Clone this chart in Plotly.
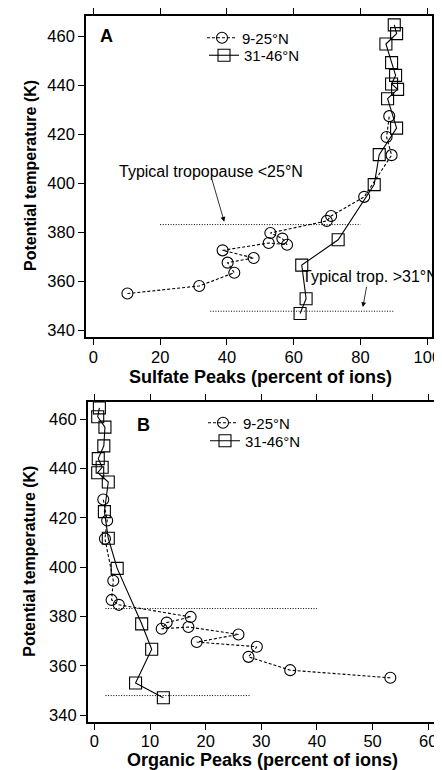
import plotly.graph_objects as go

# ---- data ----
theta_low = [355.1, 358.2, 363.6, 367.7, 369.6, 372.7, 375.7, 375.0, 377.5, 379.8,
             384.7, 386.7, 394.5, 411.5, 418.9, 427.4]
sulfate_low = [10.2, 31.7, 42.2, 40.2, 48.0, 38.7, 52.5, 58.0, 56.6, 53.0,
               69.9, 71.2, 81.1, 89.3, 87.8, 88.6]
organic_low = [53.2, 35.2, 27.7, 29.2, 18.4, 25.9, 16.9, 12.1, 13.0, 17.3,
               4.4, 3.1, 3.4, 1.9, 2.3, 1.6]

theta_mid = [347.0, 353.0, 366.7, 377.0, 399.5, 411.7, 422.5, 434.5, 438.3, 440.5,
             444.0, 449.2, 456.8, 461.0, 464.6]
sulfate_mid = [61.9, 63.7, 62.4, 73.3, 84.1, 85.6, 90.8, 88.1, 91.1, 89.3,
               90.5, 89.3, 87.6, 90.8, 90.1]
organic_mid = [12.4, 7.4, 10.3, 8.5, 4.1, 2.5, 1.8, 2.5, 0.6, 1.4,
               0.7, 1.7, 1.9, 0.6, 0.9]

trop_low_theta = 383.2
trop_mid_theta = 347.9
trop_low_x_A = [20, 80]
trop_mid_x_A = [35, 90]
trop_low_x_B = [2, 40]
trop_mid_x_B = [2, 28]

name_low = "9-25°N"
name_mid = "31-46°N"

FONT = "Liberation Sans, Arial, sans-serif"
# page body has an 8px margin: figure is 434x762 so it fills the 442x770 window
W, H = 434, 762
OFF = 8


def px(v):
    return v / W


def py(v):
    return 1 - v / H


fig = go.Figure()

circ = dict(symbol="circle-open", size=11, color="black", line=dict(width=1.1))
sq = dict(symbol="square-open", size=12, color="black", line=dict(width=1.1))

# Panel A
fig.add_trace(go.Scatter(x=sulfate_low, y=theta_low, mode="lines+markers", name=name_low,
                         line=dict(color="black", width=1.1, dash="3px,2px"), marker=circ,
                         xaxis="x", yaxis="y", legend="legend", cliponaxis=False))
fig.add_trace(go.Scatter(x=sulfate_mid, y=theta_mid, mode="lines+markers", name=name_mid,
                         line=dict(color="black", width=1.1), marker=sq,
                         xaxis="x", yaxis="y", legend="legend2", cliponaxis=False))
# Panel B
fig.add_trace(go.Scatter(x=organic_low, y=theta_low, mode="lines+markers", name=name_low,
                         line=dict(color="black", width=1.1, dash="3px,2px"), marker=circ,
                         xaxis="x2", yaxis="y2", legend="legend3", cliponaxis=False))
fig.add_trace(go.Scatter(x=organic_mid, y=theta_mid, mode="lines+markers", name=name_mid,
                         line=dict(color="black", width=1.1), marker=sq,
                         xaxis="x2", yaxis="y2", legend="legend4", cliponaxis=False))

# tropopause lines
for xs, th, xa, ya in [(trop_low_x_A, trop_low_theta, "x", "y"),
                       (trop_mid_x_A, trop_mid_theta, "x", "y"),
                       (trop_low_x_B, trop_low_theta, "x2", "y2"),
                       (trop_mid_x_B, trop_mid_theta, "x2", "y2")]:
    fig.add_trace(go.Scatter(x=xs, y=[th, th], mode="lines", showlegend=False,
                             line=dict(color="black", width=1, dash="1px,1.6px"),
                             xaxis=xa, yaxis=ya, hoverinfo="skip"))

axis_common = dict(showline=True, linewidth=1.6, linecolor="black", mirror="ticks",
                   ticks="outside", ticklen=6, tickwidth=1.4, tickcolor="black",
                   showgrid=False, zeroline=False, automargin=False,
                   tickfont=dict(family=FONT, size=16.5, color="black"))


def leg(xs, ys):
    return dict(x=px(xs - OFF), y=py(ys - OFF), xanchor="left", yanchor="middle",
                bgcolor="rgba(0,0,0,0)", borderwidth=0,
                font=dict(family=FONT, size=15, color="black"),
                tracegroupgap=0, itemwidth=30)


fig.update_layout(
    width=W, height=H, margin=dict(l=0, r=0, t=0, b=0, pad=0),
    paper_bgcolor="white", plot_bgcolor="white", template=None,
    font=dict(family=FONT, color="black"),
    xaxis=dict(domain=[px(86 - OFF), px(432 - OFF)], range=[-2.2, 101.4],
               tickvals=[0, 20, 40, 60, 80, 100], anchor="y", ticklabelstandoff=-2,
               **axis_common),
    yaxis=dict(domain=[py(337 - OFF), py(16 - OFF)], range=[337.4, 468.2],
               tickvals=[340, 360, 380, 400, 420, 440, 460], anchor="x", **axis_common),
    xaxis2=dict(domain=[px(87.7 - OFF), px(434.3 - OFF)], range=[-1.2, 61.1],
                tickvals=[0, 10, 20, 30, 40, 50, 60], anchor="y2", ticklabelstandoff=-2,
                **axis_common),
    yaxis2=dict(domain=[py(721.7 - OFF), py(401.7 - OFF)], range=[337.3, 467.1],
                tickvals=[340, 360, 380, 400, 420, 440, 460], anchor="x2", **axis_common),
    legend=leg(202, 38),
    legend2=leg(204, 55.5),
    legend3=leg(203, 423),
    legend4=leg(205, 441),
)

C = dict(xanchor="center", yanchor="middle")
ann = []
# panel labels
ann.append(dict(text="<b>A</b>", x=3.8, y=460, xref="x", yref="y", showarrow=False,
                font=dict(family=FONT, size=18, color="black"), **C))
ann.append(dict(text="<b>B</b>", x=8.9, y=457.7, xref="x2", yref="y2", showarrow=False,
                font=dict(family=FONT, size=18, color="black"), **C))
# axis titles
ann.append(dict(text="<b>Sulfate Peaks (percent of ions)</b>", x=px(260 - OFF), y=py(377 - OFF),
                xref="paper", yref="paper", showarrow=False,
                font=dict(family=FONT, size=18, color="black"), **C))
ann.append(dict(text="<b>Organic Peaks (percent of ions)</b>", x=px(262 - OFF), y=py(760 - OFF),
                xref="paper", yref="paper", showarrow=False,
                font=dict(family=FONT, size=18, color="black"), **C))
for yc in [176, 561.7]:
    ann.append(dict(text="<b>Potential temperature (K)</b>", x=px(30 - OFF), y=py(yc - OFF),
                    xref="paper", yref="paper", showarrow=False, textangle=-90,
                    font=dict(family=FONT, size=16, color="black"), **C))
# tropopause annotations
ann.append(dict(text="Typical tropopause <25°N", x=35.3, y=404.7, xref="x", yref="y",
                showarrow=False, font=dict(family=FONT, size=16, color="black"), **C))
ann.append(dict(text="", x=39.2, y=384.4, ax=35.4, ay=402.1, xref="x", yref="y",
                axref="x", ayref="y", showarrow=True, arrowhead=2, arrowsize=1.2,
                arrowwidth=0.8, arrowcolor="black"))
ann.append(dict(text="Typical trop. >31°N", x=82.7, y=362.1, xref="x", yref="y",
                showarrow=False, font=dict(family=FONT, size=16, color="black"), **C))
ann.append(dict(text="", x=80.7, y=349.6, ax=81.9, ay=358.5, xref="x", yref="y",
                axref="x", ayref="y", showarrow=True, arrowhead=2, arrowsize=1.2,
                arrowwidth=0.8, arrowcolor="black"))
fig.update_layout(annotations=ann)

fig.write_html("out.html")
